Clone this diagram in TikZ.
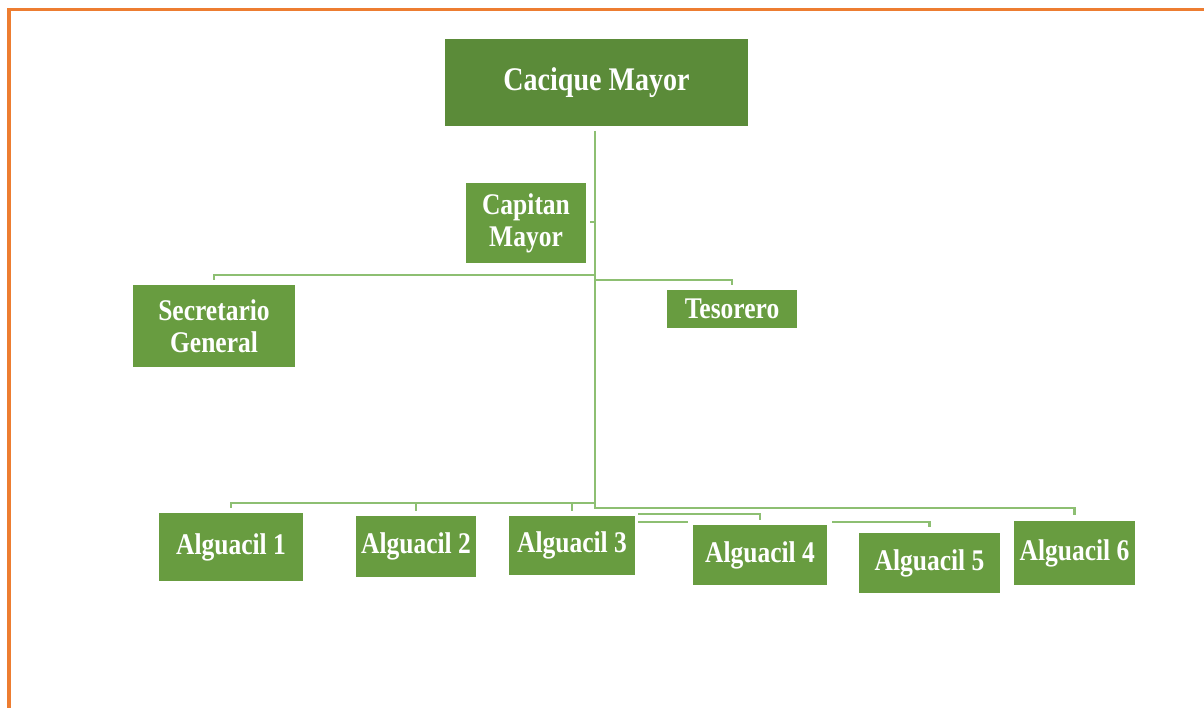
\documentclass[tikz,border=0pt]{standalone}
\usepackage{fontspec}
\newfontfamily\boxfont{Liberation Serif}[FakeStretch=0.85]
\definecolor{orangeframe}{HTML}{ED7D31}
\definecolor{topgreen}{HTML}{5B8B39}
\definecolor{boxgreen}{HTML}{689C40}
\definecolor{linegreen}{HTML}{8DBF72}
\tikzset{
  box/.style={fill=boxgreen, text=white, inner sep=0pt, outer sep=0pt, anchor=north west, align=center,
    font=\boxfont\bfseries\fontsize{30}{32}\selectfont},
  topbox/.style={box, fill=topgreen, font=\boxfont\bfseries\fontsize{33}{35}\selectfont},
  conn/.style={draw=linegreen, line width=2.9pt},
  frame/.style={draw=orangeframe, line width=3.2pt}
}
\begin{document}
\begin{tikzpicture}[x=1pt,y=-1pt]
\useasboundingbox (0,0) rectangle (1204,708);
\fill[white] (0,0) rectangle (1204,708);
% frame
\coordinate (fa) at (9,708);
\coordinate (fb) at (9,9.5);
\coordinate (fc) at (1204,9.5);
\draw[frame] (fa) -- (fb) -- (fc);

% nodes
\node[topbox, minimum width=303pt, minimum height=87pt] (cacique) at (445,39) {Cacique Mayor};
\node[box, minimum width=120pt, minimum height=80pt] (capitan) at (466,183) {Capitan\\Mayor};
\node[box, minimum width=162pt, minimum height=82pt] (secre) at (133,285) {Secretario\\General};
\node[box, minimum width=130pt, minimum height=38pt] (teso) at (667,290) {Tesorero};
\node[box, minimum width=144pt, minimum height=68pt] (a1) at (159,513) {Alguacil 1};
\node[box, minimum width=120pt, minimum height=61pt] (a2) at (356,516) {Alguacil 2};
\node[box, minimum width=126pt, minimum height=59pt] (a3) at (509,516) {Alguacil 3};
\node[box, minimum width=134pt, minimum height=60pt] (a4) at (693,525) {Alguacil 4};
\node[box, minimum width=141pt, minimum height=60pt] (a5) at (859,533) {Alguacil 5};
\node[box, minimum width=121pt, minimum height=64pt] (a6) at (1014,521) {Alguacil 6};

% coordinates
\coordinate (trunkTop) at (595,131);
\coordinate (trunkCap) at (595,222);
\coordinate (capStub) at (590,222);
\coordinate (jSec) at (595,275);
\coordinate (jTes) at (595,280);
\coordinate (jLow) at (595,503);
\coordinate (trunkEnd) at (595,508);
\coordinate (f1a) at (638,514);
\coordinate (f2a) at (638,522);
\coordinate (f2b) at (688,522);
\coordinate (f3a) at (832,522);

% connectors
\draw[conn, line cap=butt] (cacique.south -| trunkTop) ++(0,5) -- (trunkEnd) -- (trunkEnd -| a6.north) -- ([yshift=6pt]a6.north);
\draw[conn] (capitan.east |- capStub) ++(4,0) -- (trunkCap);
\draw[conn] (jSec) -- (jSec -| secre.north) -- ([yshift=5pt]secre.north);
\draw[conn] (jTes) -- (jTes -| teso.north) -- ([yshift=5pt]teso.north);
\draw[conn] (jLow) -- (jLow -| a1.north) -- ([yshift=5pt]a1.north);
\draw[conn] (jLow -| a2.north) -- ([yshift=5pt]a2.north);
\draw[conn] (jLow -| 572,0) -- (572,511);
\draw[conn] (f1a) -- (f1a -| a4.north) -- ([yshift=5pt]a4.north);
\draw[conn] (f2a) -- (f2b);
\draw[conn] (f3a) -- (f3a -| a5.north) -- ([yshift=6pt]a5.north);
\end{tikzpicture}
\end{document}
